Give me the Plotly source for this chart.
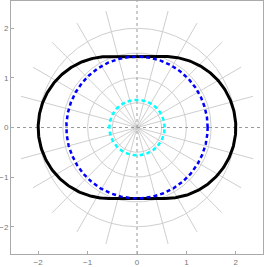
import numpy as np
import plotly.graph_objects as go

# --- chart values ---
tick_vals = [-2, -1, 0, 1, 2]
tick_text = ["\u22122", "\u22121", "0", "1", "2"]
grid_radii = [0.5, 1.0, 1.5, 2.0]
grid_angles_deg = [15, 30, 45, 60, 75, 105, 120, 135, 150, 165]
grid_ray_length = 2.43
stadium_radius = 1.43
stadium_half_length = 0.57
blue_radius = 1.43
cyan_radius = 0.56
axis_range = [-2.55, 2.55]

t = np.linspace(0, 2 * np.pi, 721)
fig = go.Figure()

# polar grid circles
for r in grid_radii:
    fig.add_trace(go.Scatter(x=r * np.cos(t), y=r * np.sin(t), mode="lines",
                             line=dict(color="#c8c8c8", width=0.9),
                             hoverinfo="skip", showlegend=False))
# polar grid rays
for a in grid_angles_deg:
    th = np.deg2rad(a)
    fig.add_trace(go.Scatter(x=[-grid_ray_length * np.cos(th), grid_ray_length * np.cos(th)],
                             y=[-grid_ray_length * np.sin(th), grid_ray_length * np.sin(th)],
                             mode="lines", line=dict(color="#c8c8c8", width=0.9),
                             hoverinfo="skip", showlegend=False))
# axes through origin
fig.add_trace(go.Scatter(x=axis_range, y=[0, 0], mode="lines",
                         line=dict(color="#999999", width=1, dash="dot"),
                         hoverinfo="skip", showlegend=False))
fig.add_trace(go.Scatter(x=[0, 0], y=axis_range, mode="lines",
                         line=dict(color="#999999", width=1, dash="dot"),
                         hoverinfo="skip", showlegend=False))

# stadium (black)
tr = np.linspace(-np.pi / 2, np.pi / 2, 181)
tl = np.linspace(np.pi / 2, 3 * np.pi / 2, 181)
sx = np.concatenate([stadium_half_length + stadium_radius * np.cos(tr),
                     -stadium_half_length + stadium_radius * np.cos(tl), [stadium_half_length]])
sy = np.concatenate([stadium_radius * np.sin(tr), stadium_radius * np.sin(tl), [-stadium_radius]])
fig.add_trace(go.Scatter(x=sx, y=sy, mode="lines", line=dict(color="black", width=3),
                         hoverinfo="skip", showlegend=False))

# blue dashed circle
fig.add_trace(go.Scatter(x=blue_radius * np.cos(t), y=blue_radius * np.sin(t), mode="lines",
                         line=dict(color="#0000ff", width=2.5, dash="4px,3px"),
                         hoverinfo="skip", showlegend=False))
# cyan dashed circle
fig.add_trace(go.Scatter(x=cyan_radius * np.cos(t), y=cyan_radius * np.sin(t), mode="lines",
                         line=dict(color="#00ffff", width=2.5, dash="4px,3px"),
                         hoverinfo="skip", showlegend=False))

axis_common = dict(range=axis_range, tickvals=tick_vals, ticktext=tick_text,
                   showgrid=False, zeroline=False, showline=True, linecolor="#aaaaaa",
                   linewidth=1, mirror=True, ticks="inside", ticklen=3, tickcolor="#aaaaaa",
                   automargin=False,
                   tickfont=dict(family="Liberation Sans", size=8, color="#777777"))
fig.update_layout(
    width=266, height=267,
    margin=dict(l=11, r=3, t=1, b=13),
    paper_bgcolor="white", plot_bgcolor="white",
    xaxis=dict(**axis_common),
    yaxis=dict(**axis_common, ticklabelstandoff=0),
)
fig.write_html("out.html", config={"displayModeBar": False},
               post_script="document.body.style.margin='0';")
